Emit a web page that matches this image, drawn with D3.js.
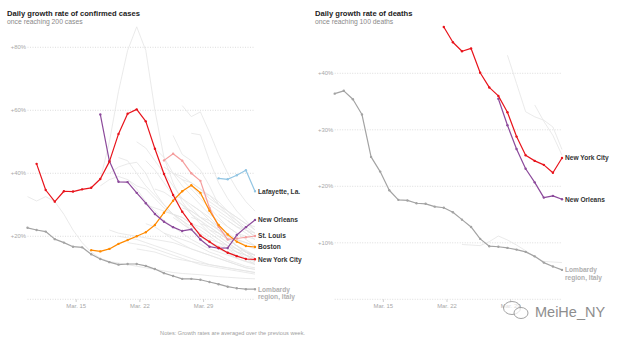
<!DOCTYPE html>
<html>
<head>
<meta charset="utf-8">
<script src="https://cdn.jsdelivr.net/npm/d3@7"></script>
<style>
  html, body { margin: 0; padding: 0; background: #fff; }
  svg { display: block; font-family: "Liberation Sans", Arial, sans-serif; }
  .title { font-size: 7.6px; font-weight: bold; fill: #222; }
  .subtitle { font-size: 6.8px; fill: #8a8a8a; }
  .tick-label { font-size: 5.9px; fill: #a8a8a8; }
  .line-label { font-size: 6.6px; font-weight: bold; fill: #333; }
</style>
</head>
<body>
<div id="vis"></div>
<script>
const W = 624;
const H = 338;

// days are counted from March 1 (32 = April 1)
const tickDays = [15, 22, 29];
const tickLabels = ["Mar. 15", "Mar. 22", "Mar. 29"];
const tickShift = 0.65; // date ticks sit a little left of the daily points

const casesYTicks = [20, 40, 60, 80];
const deathsYTicks = [10, 20, 30, 40];

// ---- confirmed cases (left) ----
const lombardyCases = [22.7, 22, 21.5, 19.1, 18, 16.7, 16.5, 14.3, 12.8, 11.8, 11, 11.2, 11.2,
  10.6, 9.6, 8.3, 7.4, 6.5, 6.5, 6.2, 5.5, 4.8, 4.0, 3.5, 3.2, 3.2];
const nycCases = [43, 34.7, 31, 34.3, 34.2, 34.9, 35.4, 38.2, 43.7, 52.5, 58.9, 60.3, 56.5,
  47.8, 39.8, 33.1, 27.8, 23.9, 20.2, 18.3, 16.4, 14.8, 13.7, 12.8, 12.7];
const newOrleansCases = [58.7, 43.9, 37.3, 37.2, 33.8, 30.5, 27.1, 24.6, 22.9, 21.7, 22.2,
  19.0, 16.7, 16.2, 16.3, 20.4, 22.9, 25.2];
const bostonCases = [15.6, 15.2, 16.0, 17.6, 18.8, 20.0, 21.3, 23.6, 27.5, 31.3, 34.3, 36.2,
  33.8, 28.1, 23.6, 20.6, 18.3, 16.9, 16.6];
const stLouisCases = [44.1, 46.2, 44.0, 40.0, 37.6, 29, 23, 19, 19.3, 19.7, 20.1];
const lafayetteCases = [38.4, 38.1, 39.4, 41.0, 34.3];

// other places, drawn faint: [first day, values]
const otherCases = [
  [17, [38, 50, 66, 79, 86.5, 79, 60, 45, 37, 31, 27, 24, 21, 19, 17, 15, 14, 13]],
  [26, [61.5, 58, 59.5, 53, 46, 40, 35, 31, 28]],
  [25, [52, 46, 44, 41, 36, 30, 27, 24, 22, 20]],
  [27, [52.7, 52.2, 44, 37, 32, 28, 25, 22]],
  [9, [32.6, 31.2, 32.6, 31, 27, 22, 18, 15, 13, 12, 11.5, 11, 10.5, 10, 9.5, 9, 8.5, 8.2, 8,
    7.8, 7.5, 7.2, 7, 6.8, 6.6, 6.5]],
  [18, [40, 42, 43, 43.5, 40, 34, 30, 27, 24, 22, 20, 18, 17, 16, 15, 14, 13]],
  [17, [36, 38, 39, 38, 35, 31, 28, 25, 23, 21, 19, 17.5, 16, 15, 14, 13, 12, 11.5]],
  [19, [45, 44, 40, 36, 33, 30, 27, 25, 23, 21, 19, 18, 17, 16, 15, 14]],
  [20, [38, 36, 35, 32, 29, 27, 25, 22, 20, 18, 16, 15, 14, 13, 12]],
  [21, [50, 48, 44, 40, 36, 32, 29, 26, 24, 22, 20, 19, 18, 17]],
  [22, [44, 41, 37, 33, 30, 28, 26, 24, 22, 20, 19, 18, 17]],
  [22, [30, 29, 28, 27, 26, 24, 22, 20, 18, 16, 14, 13, 12]],
  [23, [48, 45, 40, 36, 33, 30, 27, 25, 23, 21, 20, 19]],
  [23, [35, 34, 32, 30, 27, 25, 22, 20, 18, 16, 14, 12]],
  [24, [42, 40, 38, 35, 32, 29, 26, 23, 21, 19, 17]],
  [24, [28, 27, 26, 24, 23, 21, 19, 17, 15, 13, 11]],
  [25, [40, 39, 37, 35, 32, 30, 28, 26, 24, 23]],
  [25, [33, 32, 30, 28, 26, 23, 20, 17, 15, 13]],
  [26, [38, 37, 35, 33, 30, 28, 26, 24, 22]],
  [26, [29, 28, 26, 25, 23, 21, 19, 17, 16]],
  [27, [36, 33, 31, 29, 27, 25, 23, 21]],
  [27, [26, 25, 23, 21, 19, 17, 15, 14]],
  [28, [34, 33, 31, 28, 25, 22, 20]],
  [28, [24, 23, 21, 19, 17, 15, 13]],
  [29, [30, 28, 26, 24, 22, 21]],
  [29, [22, 21, 19, 17, 15, 14]],
  [30, [27, 25, 23, 21, 19]],
  [30, [20, 18, 16, 14, 12]],
  [31, [25, 23, 22, 20]],
  [18, [22, 21, 20.5, 20, 19.5, 19, 18.5, 18, 17, 16, 15, 14, 13, 12, 11, 10, 9.5]],
  [19, [20, 19.5, 19, 18, 17, 16, 15, 14, 13, 12, 11, 10.5, 10, 9.5, 9, 8.5]],
  [20, [18, 17.5, 17, 16, 15, 14, 13, 12, 11, 10.5, 10, 9.5, 9, 8.5, 8]],
  [21, [16, 15.5, 15, 14, 13, 12.5, 12, 11.5, 11, 10.5, 10, 9.5, 9, 8.5]],
  [22, [24, 23, 21, 19, 17.5, 16, 15, 14, 13, 12, 11, 10, 9.5]],
  [24, [21, 20, 19, 18, 16.5, 15, 14, 12.5, 11.5, 10.5, 10]],
  [25, [26, 24, 22, 20, 18, 16, 14.5, 13, 12, 11]],
  [27, [30, 28, 25, 22, 19, 17, 15.5, 14]],
];

// ---- deaths (right) ----
const lombardyDeaths = [36.4, 36.9, 35.4, 32.7, 25.2, 22.6, 19.3, 17.6, 17.5, 17.0, 16.9, 16.4,
  16.2, 15.4, 14.1, 12.8, 10.7, 9.4, 9.3, 9.1, 8.8, 8.4, 7.6, 6.5, 5.8, 5.2];
const nycDeaths = [48.2, 45.5, 43.9, 44.4, 40.1, 37.5, 36.0, 33.1, 28.8, 25.5, 24.5, 23.8, 22.4, 25.0];
const newOrleansDeaths = [35.5, 30.8, 26.6, 23.1, 20.7, 18.0, 18.3, 17.7];

const otherDeaths = [
  [28, [43.2, 38.2, 33.2, 32.3, 31.7, 30.5, 26.5]],
  [31, [34.4, 31.5, 29.0, 25.5]],
  [23, [9.7, 9.6, 9.5, 10.2, 11.2, 10.5, 9.6, 8.6, 7.5, 6.7, 6.6, 6.5]],
];

const casesSeries = [
  { start: 9, values: lombardyCases, color: "#a3a3a3", label: ["Lombardy", "region, Italy"], labelColor: "#b0b0b0" },
  { start: 30, values: lafayetteCases, color: "#92c5e3", label: ["Lafayette, La."] },
  { start: 24, values: stLouisCases, color: "#f59d9d", label: ["St. Louis"] },
  { start: 16, values: bostonCases, color: "#ff8a00", label: ["Boston"] },
  { start: 17, values: newOrleansCases, color: "#8c4a9b", label: ["New Orleans"] },
  { start: 10, values: nycCases, color: "#e8131b", label: ["New York City"] },
];

const deathsSeries = [
  { start: 9, values: lombardyDeaths, color: "#a3a3a3", label: ["Lombardy", "region, Italy"], labelColor: "#b0b0b0" },
  { start: 27, values: newOrleansDeaths, color: "#8c4a9b", label: ["New Orleans"] },
  { start: 21, values: nycDeaths, color: "#e8131b", label: ["New York City"] },
];

function toPoints(start, values) {
  return values.map((v, i) => ({ day: start + i, value: v }));
}

function drawPanel(svg, cfg) {
  const x = d3.scaleLinear().domain([9, 34]).range(cfg.xRange);
  const y = d3.scaleLinear().domain([0, cfg.yMax]).range([299.3, cfg.yTop]);
  const g = svg.append("g");

  g.append("text").attr("class", "title").attr("x", cfg.titleX).attr("y", 15.5).text(cfg.title);
  g.append("text").attr("class", "subtitle").attr("x", cfg.titleX).attr("y", 24).text(cfg.subtitle);

  // dotted gridlines, including the zero line
  const grid = g.append("g");
  grid.selectAll("line")
    .data([0].concat(cfg.yTicks))
    .enter()
    .append("line")
    .attr("x1", cfg.xRange[0])
    .attr("x2", cfg.xRange[1])
    .attr("y1", (d) => y(d))
    .attr("y2", (d) => y(d))
    .attr("stroke", "#cfcfcf")
    .attr("stroke-width", 0.7)
    .attr("stroke-dasharray", "1,1.5");

  grid.selectAll("text")
    .data(cfg.yTicks)
    .enter()
    .append("text")
    .attr("class", "tick-label")
    .attr("x", cfg.xRange[0] - 1.5)
    .attr("y", (d) => y(d))
    .attr("dy", "0.35em")
    .attr("text-anchor", "end")
    .text((d) => `+${d}%`);

  // date axis
  const xAxis = g.append("g");
  tickDays.forEach((d, i) => {
    const tx = x(d - tickShift);
    xAxis.append("line")
      .attr("x1", tx).attr("x2", tx)
      .attr("y1", 299.3).attr("y2", 302)
      .attr("stroke", "#bbb").attr("stroke-width", 0.7);
    xAxis.append("text")
      .attr("class", "tick-label")
      .attr("x", tx)
      .attr("y", 308)
      .attr("text-anchor", "middle")
      .text(tickLabels[i]);
  });

  const line = d3.line().x((d) => x(d.day)).y((d) => y(d.value));

  g.append("g")
    .selectAll("path")
    .data(cfg.others)
    .enter()
    .append("path")
    .attr("d", (d) => line(toPoints(d[0], d[1])))
    .attr("fill", "none")
    .attr("stroke", "#e4e4e4")
    .attr("stroke-width", 0.8);

  cfg.series.forEach((s) => {
    const pts = toPoints(s.start, s.values);
    const sg = g.append("g");
    sg.append("path")
      .attr("d", line(pts))
      .attr("fill", "none")
      .attr("stroke", s.color)
      .attr("stroke-width", 1.2)
      .attr("stroke-linejoin", "round");
    sg.selectAll("circle")
      .data(pts)
      .enter()
      .append("circle")
      .attr("cx", (d) => x(d.day))
      .attr("cy", (d) => y(d.value))
      .attr("r", 1.2)
      .attr("fill", s.color);

    const last = pts[pts.length - 1];
    s.label.forEach((t, i) => {
      sg.append("text")
        .attr("class", "line-label")
        .attr("x", cfg.xRange[1] + 3)
        .attr("y", y(last.value) + i * 7.5)
        .attr("dy", "0.35em")
        .style("fill", s.labelColor || "#333")
        .text(t);
    });
  });
}

function init() {
  const svg = d3.select("#vis")
    .append("svg")
    .attr("width", W)
    .attr("height", H);

  svg.append("rect").attr("width", W).attr("height", H).attr("fill", "#fff");

  drawPanel(svg, {
    title: "Daily growth rate of confirmed cases",
    subtitle: "once reaching 200 cases",
    titleX: 7,
    xRange: [27.5, 255],
    yMax: 80,
    yTop: 47.3,
    yTicks: casesYTicks,
    others: otherCases,
    series: casesSeries,
  });

  drawPanel(svg, {
    title: "Daily growth rate of deaths",
    subtitle: "once reaching 100 deaths",
    titleX: 315,
    xRange: [334.7, 562],
    yMax: 40,
    yTop: 73.3,
    yTicks: deathsYTicks,
    others: otherDeaths,
    series: deathsSeries,
  });

  svg.append("text")
    .attr("x", 305)
    .attr("y", 335)
    .attr("text-anchor", "end")
    .style("font-size", "5.6px")
    .style("fill", "#a0a0a0")
    .text("Notes: Growth rates are averaged over the previous week.");

  // watermark
  const wm = svg.append("g").attr("opacity", 0.85);
  wm.append("ellipse").attr("cx", 512).attr("cy", 308).attr("rx", 8.5).attr("ry", 6.5)
    .attr("fill", "rgba(255,255,255,0.7)").attr("stroke", "#888").attr("stroke-width", 0.9);
  wm.append("ellipse").attr("cx", 521).attr("cy", 313).attr("rx", 7).attr("ry", 5.5)
    .attr("fill", "rgba(255,255,255,0.7)").attr("stroke", "#888").attr("stroke-width", 0.9);
  wm.append("text")
    .attr("x", 535)
    .attr("y", 316.5)
    .style("font-size", "14.5px")
    .style("fill", "#7a7a7a")
    .text("MeiHe_NY");
}

window.addEventListener("load", init);
</script>
</body>
</html>
